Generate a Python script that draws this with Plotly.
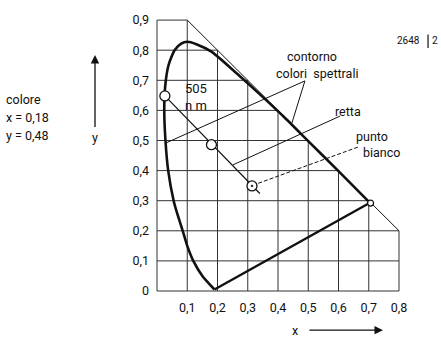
import plotly.graph_objects as go

# --- data ---
ticks = [0.1, 0.2, 0.3, 0.4, 0.5, 0.6, 0.7, 0.8]
x_ticktext = ["0,1", "0,2", "0,3", "0,4", "0,5", "0,6", "0,7", "0,8"]
y_ticks = [0, 0.1, 0.2, 0.3, 0.4, 0.5, 0.6, 0.7, 0.8, 0.9]
y_ticktext = ["0", "0,1", "0,2", "0,3", "0,4", "0,5", "0,6", "0,7", "0,8", "0,9"]

# spectral locus (horseshoe)
locus_x = [0.19, 0.15, 0.12, 0.10, 0.085, 0.066, 0.055, 0.037, 0.028, 0.024,
           0.027, 0.038, 0.058, 0.08, 0.10, 0.13, 0.18, 0.25, 0.30, 0.36,
           0.42, 0.50, 0.60, 0.704]
locus_y = [0.005, 0.05, 0.10, 0.15, 0.20, 0.26, 0.30, 0.40, 0.50, 0.60,
           0.68, 0.75, 0.80, 0.822, 0.828, 0.82, 0.795, 0.735, 0.69, 0.635,
           0.578, 0.498, 0.398, 0.293]
purple_x = [0.19, 0.704]
purple_y = [0.005, 0.293]

p505 = (0.026, 0.648)
colour = (0.18, 0.486)
white = (0.314, 0.349)
line_end = (0.34, 0.324)
red_end = (0.706, 0.292)

FONT = "Roboto, Liberation Sans, sans-serif"
FS = 12.5
INK = "#111"

fig = go.Figure()

# staircase grid (cells under x + y = 1)
for v in [0.0] + ticks:
    top = min(0.9, round(1 - v, 2)) if v > 0 else 0.9
    fig.add_trace(go.Scatter(x=[v, v], y=[0, top], mode="lines",
                             line=dict(color="#333", width=1), hoverinfo="skip"))
for v in y_ticks:
    right = min(0.8, round(1 - v, 2)) if v > 0.1 else 0.8
    fig.add_trace(go.Scatter(x=[0, right], y=[v, v], mode="lines",
                             line=dict(color="#333", width=1), hoverinfo="skip"))

# x + y = 1 diagonal
fig.add_trace(go.Scatter(x=[0.1, 0.8], y=[0.9, 0.2], mode="lines",
                         line=dict(color=INK, width=1)))

# spectral locus and purple line
fig.add_trace(go.Scatter(x=locus_x, y=locus_y, mode="lines",
                         line=dict(color=INK, width=2.6, shape="spline", smoothing=0.6)))
fig.add_trace(go.Scatter(x=purple_x, y=purple_y, mode="lines",
                         line=dict(color=INK, width=2.4)))

# straight line 505 nm -> white point
fig.add_trace(go.Scatter(x=[p505[0], line_end[0]], y=[p505[1], line_end[1]], mode="lines",
                         line=dict(color=INK, width=1.2)))

# leaders
leaders = [
    ([0.489, 0.030], [0.698, 0.492], "solid"),
    ([0.489, 0.446], [0.698, 0.558], "solid"),
    ([0.605, 0.251], [0.581, 0.419], "solid"),
    ([0.664, 0.327], [0.478, 0.355], "4px,2px"),
]
for lx, ly, dash in leaders:
    fig.add_trace(go.Scatter(x=lx, y=ly, mode="lines",
                             line=dict(color=INK, width=1, dash=dash)))

# circles
fig.add_trace(go.Scatter(x=[p505[0], colour[0]], y=[p505[1], colour[1]], mode="markers",
                         marker=dict(symbol="circle", size=10, color="white",
                                     line=dict(color=INK, width=1.3))))
fig.add_trace(go.Scatter(x=[white[0]], y=[white[1]], mode="markers",
                         marker=dict(symbol="circle-dot", size=10, color="white",
                                     line=dict(color=INK, width=1.3))))
fig.add_trace(go.Scatter(x=[red_end[0]], y=[red_end[1]], mode="markers",
                         marker=dict(symbol="circle", size=6, color="white",
                                     line=dict(color=INK, width=1.2))))

texts = [
    ("contorno", 0.511, 0.778, "center"),
    ("colori  spettrali", 0.528, 0.721, "center"),
    ("retta", 0.633, 0.596, "center"),
    ("punto", 0.710, 0.513, "center"),
    ("bianco", 0.743, 0.459, "center"),
    ("colore", -0.506, 0.635, "left"),
    ("x = 0,18", -0.506, 0.578, "left"),
    ("y = 0,48", -0.506, 0.518, "left"),
    ("y", -0.205, 0.510, "center"),
    ("x", 0.456, -0.130, "center"),
]
for t, tx, ty, anc in texts:
    fig.add_annotation(x=tx, y=ty, text=t, showarrow=False, xanchor=anc,
                       font=dict(family=FONT, size=FS, color=INK))

fig.add_annotation(x=0.128, y=0.645, text="505<br>n m", showarrow=False,
                   xanchor="center", yanchor="middle",
                   font=dict(family=FONT, size=13, color=INK))

fig.add_annotation(x=0.875, y=0.831, text="2648", showarrow=False, xanchor="right",
                   font=dict(family=FONT, size=10, color=INK))
fig.add_annotation(x=0.903, y=0.831, text="2", showarrow=False, xanchor="left",
                   font=dict(family=FONT, size=10, color=INK))
fig.add_shape(type="line", x0=0.896, x1=0.896, y0=0.807, y1=0.852,
              line=dict(color=INK, width=1.2))

# axis arrows
fig.add_annotation(x=-0.205, y=0.784, ax=-0.205, ay=0.540, xref="x", yref="y",
                   axref="x", ayref="y", text="", showarrow=True,
                   arrowhead=2, arrowsize=1.3, arrowwidth=1.3, arrowcolor=INK)
fig.add_annotation(x=0.747, y=-0.130, ax=0.499, ay=-0.130, xref="x", yref="y",
                   axref="x", ayref="y", text="", showarrow=True,
                   arrowhead=2, arrowsize=1.3, arrowwidth=1.3, arrowcolor=INK)

W, H = 441, 340
fig.update_layout(
    width=W, height=H, margin=dict(l=0, r=0, t=0, b=0),
    paper_bgcolor="white", plot_bgcolor="white", showlegend=False,
    xaxis=dict(range=[-157 / 302.5, (W - 157) / 302.5], showgrid=False, zeroline=False,
               showline=False, tickvals=ticks, ticktext=x_ticktext,
               anchor="free", position=(H - 291) / H, ticks="", ticklabelstandoff=7,
               tickfont=dict(family=FONT, size=FS, color=INK)),
    yaxis=dict(range=[(291 - H) / 301, 291 / 301], showgrid=False, zeroline=False,
               showline=False, tickvals=y_ticks, ticktext=y_ticktext,
               anchor="free", position=157 / W, ticks="", ticklabelstandoff=8,
               tickfont=dict(family=FONT, size=FS, color=INK)),
)

fig.write_html("out.html", config={"displayModeBar": False},
               post_script="document.body.style.margin='0';")
